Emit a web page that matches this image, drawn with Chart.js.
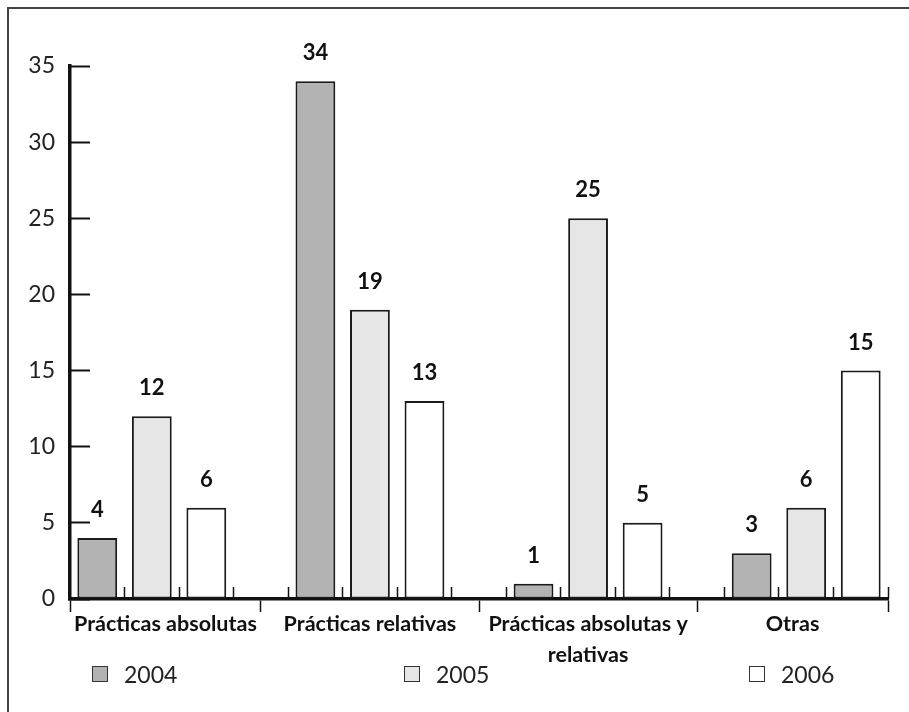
<!DOCTYPE html>
<html><head><meta charset="utf-8">
<script src="https://cdn.jsdelivr.net/npm/chart.js@4.4.1/dist/chart.umd.min.js"></script>
<style>
html,body{margin:0;padding:0;background:#fff;width:909px;height:712px;overflow:hidden;}
#frame{position:absolute;left:7px;top:7px;right:0;bottom:0;border-top:2px solid #444;border-left:2px solid #444;}
#wrap{position:absolute;left:0;top:0;width:909px;height:712px;}
#legend{position:absolute;left:0;top:663px;width:909px;height:22px;font-family:Lato,sans-serif;font-size:23px;color:#222;}
.item{position:absolute;top:0;display:flex;align-items:center;height:22px;line-height:22px;}
.item:nth-child(1){left:92px;}
.item:nth-child(2){left:404px;}
.item:nth-child(3){left:749px;}
.box{width:14px;height:14px;border:1.5px solid #333;margin-right:16px;}
</style></head><body>
<div id="frame"></div>
<div id="wrap"><canvas id="c" width="909" height="712"></canvas></div>
<div id="legend"></div>
<script>
// ---- data ----
const categories = [['Prácticas absolutas'], ['Prácticas relativas'], ['Prácticas absolutas y', 'relativas'], ['Otras']];
const seriesNames = ['2004', '2005', '2006'];
const values2004 = [4, 34, 1, 3];
const values2005 = [12, 19, 25, 6];
const values2006 = [6, 13, 5, 15];
const yTickValues = [0, 5, 10, 15, 20, 25, 30, 35];
const seriesColors = ['#b3b3b3', '#e6e6e6', '#ffffff'];

const seriesValues = [values2004, values2005, values2006];
const n = categories.length;
const groupFraction = 0.75;                 // 3 of 4 slots per category
const slot = groupFraction / seriesNames.length;
const xMin = -groupFraction / 2;
const xMax = (n - 1) + groupFraction / 2;

const dataTicks = categories.map((c, i) => ({ value: i }));
const majorTicks = [xMin];
for (let i = 0; i < n - 1; i++) majorTicks.push(i + 0.5);
majorTicks.push(xMax);
const labelTicks = [];
for (let i = 0; i < majorTicks.length - 1; i++) labelTicks.push({ value: (majorTicks[i] + majorTicks[i + 1]) / 2 });
const minorTicks = [];
for (let v = xMin + slot; v <= xMax + 1e-9; v += slot) minorTicks.push({ value: v });

const FONT = 'Lato, "Open Sans", sans-serif';
const INK = '#111';

const datasets = seriesNames.map((name, k) => ({
  label: name,
  data: seriesValues[k].map((v, i) => ({ x: i, y: v })),
  backgroundColor: seriesColors[k],
  borderColor: '#1a1a1a',
  borderWidth: 2,
  borderSkipped: false,
  categoryPercentage: groupFraction,
  barPercentage: 0.73,
  xAxisID: 'x',
  yAxisID: 'y'
}));

const valueLabels = {
  id: 'valueLabels',
  afterDatasetsDraw(chart) {
    const ctx = chart.ctx;
    ctx.save();
    ctx.font = 'bold 22px ' + FONT;
    ctx.fillStyle = INK;
    ctx.textAlign = 'center';
    ctx.textBaseline = 'alphabetic';
    chart.data.datasets.forEach((ds, di) => {
      chart.getDatasetMeta(di).data.forEach((bar, i) => {
        ctx.fillText(String(ds.data[i].y), bar.x, bar.y - 21);
      });
    });
    ctx.restore();
  }
};

const xBase = { type: 'linear', min: xMin, max: xMax, offset: false, bounds: 'data' };

new Chart(document.getElementById('c'), {
  type: 'bar',
  data: { datasets },
  plugins: [valueLabels],
  options: {
    responsive: false,
    animation: false,
    devicePixelRatio: 1,
    layout: { padding: { left: 0, top: 66, right: 21, bottom: 0 } },
    plugins: { legend: { display: false }, tooltip: { enabled: false } },
    scales: {
      x: Object.assign({}, xBase, {
        display: false,
        afterBuildTicks: s => { s.ticks = dataTicks.map(t => ({ value: t.value })); }
      }),
      xMajor: Object.assign({}, xBase, {
        axis: 'x', position: 'bottom', weight: 0,
        afterBuildTicks: s => { s.ticks = majorTicks.map(v => ({ value: v })); },
        ticks: { display: false },
        grid: { offset: false, drawOnChartArea: false, drawTicks: true, tickLength: 13, tickWidth: 1.5, tickColor: INK },
        border: { display: true, width: 3.5, color: INK }
      }),
      xLab: Object.assign({}, xBase, {
        axis: 'x', position: 'bottom', weight: 1,
        afterBuildTicks: s => { s.ticks = labelTicks.map(t => ({ value: t.value })); },
        afterFit: s => { s.height = 100; },
        ticks: {
          autoSkip: false, maxRotation: 0, minRotation: 0, padding: -4,
          color: INK, font: { family: FONT, size: 21.5, weight: 'bold', lineHeight: 1.45 },
          callback: (v, i) => categories[i]
        },
        grid: { display: false, drawTicks: false, offset: false },
        border: { display: false }
      }),
      xMinor: Object.assign({}, xBase, {
        axis: 'x', position: { y: 0 },
        afterBuildTicks: s => { s.ticks = minorTicks.map(t => ({ value: t.value })); },
        ticks: { display: false },
        grid: { offset: false, drawOnChartArea: false, drawTicks: true, tickLength: -12, tickWidth: 1.5, tickColor: INK },
        border: { display: false }
      }),
      y: {
        type: 'linear', position: 'left', min: 0, max: 35,
        afterBuildTicks: s => { s.ticks = yTickValues.map(v => ({ value: v })); },
        afterFit: s => { s.width = 70; },
        ticks: { color: '#222', padding: 35, font: { family: FONT, size: 23 } },
        grid: { drawOnChartArea: false, drawTicks: true, tickLength: -20, tickWidth: 2, tickColor: INK },
        border: { display: true, width: 3.5, color: INK }
      }
    }
  }
});

// legend (HTML, built from the series arrays)
const leg = document.getElementById('legend');
seriesNames.forEach((name, k) => {
  const it = document.createElement('div');
  it.className = 'item';
  const b = document.createElement('span');
  b.className = 'box';
  b.style.background = seriesColors[k];
  const t = document.createElement('span');
  t.textContent = name;
  it.appendChild(b); it.appendChild(t);
  leg.appendChild(it);
});
</script>
</body></html>
